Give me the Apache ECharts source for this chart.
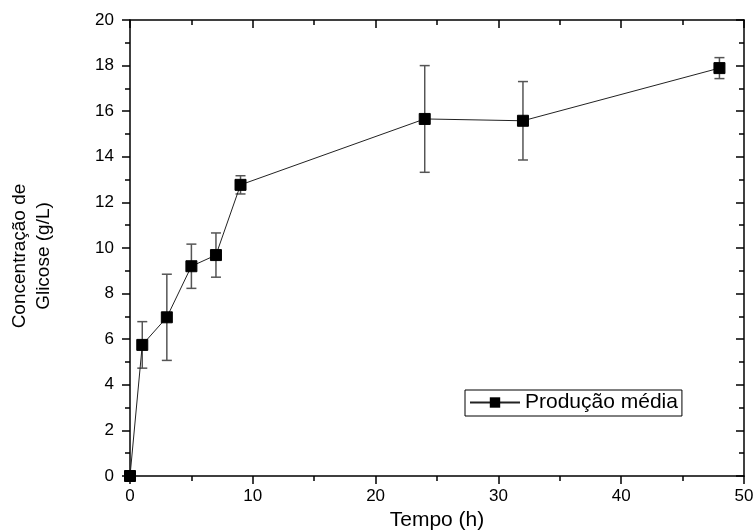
<!DOCTYPE html>
<html>
<head>
<meta charset="utf-8">
<script src="https://cdn.jsdelivr.net/npm/echarts@6/dist/echarts.min.js"></script>
<style>html,body{margin:0;padding:0;background:#fff}#c{width:756px;height:531px}</style>
</head>
<body>
<div id="c"></div>
<script>
// Data
const tempo = [0, 1, 3, 5, 7, 9, 24, 32, 48];
const media = [0, 5.75, 6.96, 9.2, 9.69, 12.77, 15.66, 15.58, 17.89];
const erro = [0, 1.02, 1.89, 0.97, 0.97, 0.4, 2.34, 1.72, 0.46];
const seriesName = 'Produção média';
const xTitle = 'Tempo (h)';
const yTitle = 'Concentração de\nGlicose (g/L)';

const FONT = 'Liberation Sans, Arial, sans-serif';
const chart = echarts.init(document.getElementById('c'), null, {renderer: 'canvas'});

const lineData = tempo.map((t, i) => [t, media[i]]);
const errData = tempo.map((t, i) => [t, media[i] - erro[i], media[i] + erro[i]]);

const axisCommon = {
  min: 0,
  axisLine: {show: true, onZero: false, lineStyle: {color: '#000', width: 1.5}},
  splitLine: {show: false},
  axisTick: {show: true, length: 8, lineStyle: {color: '#000', width: 1.5}},
  minorTick: {show: true, splitNumber: 2, length: 5, lineStyle: {color: '#000', width: 1.5}},
  axisLabel: {color: '#000', fontSize: 17, fontFamily: FONT}
};

chart.setOption({
  animation: false,
  backgroundColor: '#fff',
  grid: {left: 130, right: 12, top: 20, bottom: 55, containLabel: false, outerBoundsMode: 'none'},
  graphic: [{
    type: 'text',
    x: 32, y: 256,
    rotation: Math.PI / 2,
    style: {
      text: yTitle,
      fill: '#000',
      font: '19px ' + FONT,
      align: 'center',
      verticalAlign: 'middle',
      lineHeight: 24
    }
  }],
  legend: {
    left: 465, top: 390,
    data: [seriesName],
    itemWidth: 50, itemHeight: 13,
    borderColor: '#000', borderWidth: 1, borderRadius: 0,
    padding: [2, 4, 3, 4],
    textStyle: {color: '#000', fontSize: 21, fontFamily: FONT}
  },
  xAxis: [
    Object.assign({}, axisCommon, {
      type: 'value', position: 'bottom', max: 50, interval: 10,
      name: xTitle, nameLocation: 'middle', nameGap: 33,
      nameTextStyle: {color: '#000', fontSize: 21, fontFamily: FONT},
      axisLabel: Object.assign({}, axisCommon.axisLabel, {margin: 12})
    }),
    Object.assign({}, axisCommon, {
      type: 'value', position: 'top', max: 50, interval: 10,
      axisTick: Object.assign({}, axisCommon.axisTick, {inside: true}),
      minorTick: Object.assign({}, axisCommon.minorTick, {}),
      axisLabel: {show: false}
    })
  ],
  yAxis: [
    Object.assign({}, axisCommon, {
      type: 'value', position: 'left', max: 20, interval: 2,
      axisLabel: Object.assign({}, axisCommon.axisLabel, {margin: 16})
    }),
    Object.assign({}, axisCommon, {
      type: 'value', position: 'right', max: 20, interval: 2,
      axisTick: Object.assign({}, axisCommon.axisTick, {inside: true}),
      axisLabel: {show: false}
    })
  ],
  series: [
    {
      name: 'erro',
      type: 'custom',
      xAxisIndex: 0, yAxisIndex: 0,
      data: errData,
      z: 2,
      renderItem: function (params, api) {
        const x = api.value(0);
        const lo = api.coord([x, api.value(1)]);
        const hi = api.coord([x, api.value(2)]);
        const cap = 5;
        const style = {stroke: '#555', lineWidth: 1.5, fill: null};
        return {
          type: 'group',
          children: [
            {type: 'line', shape: {x1: lo[0], y1: lo[1], x2: hi[0], y2: hi[1]}, style: style},
            {type: 'line', shape: {x1: lo[0] - cap, y1: lo[1], x2: lo[0] + cap, y2: lo[1]}, style: style},
            {type: 'line', shape: {x1: hi[0] - cap, y1: hi[1], x2: hi[0] + cap, y2: hi[1]}, style: style}
          ]
        };
      }
    },
    {
      name: seriesName,
      type: 'line',
      xAxisIndex: 0, yAxisIndex: 0,
      data: lineData,
      symbol: 'rect',
      symbolSize: 11,
      z: 3,
      lineStyle: {color: '#222', width: 1},
      itemStyle: {color: '#000', borderColor: '#000'}
    }
  ]
});
</script>
</body>
</html>
